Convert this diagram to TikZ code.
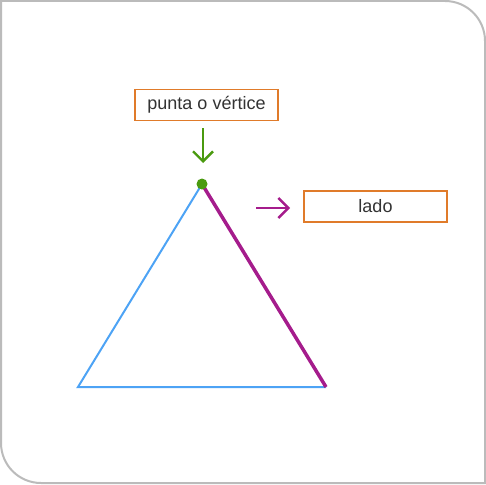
\documentclass[tikz,border=0pt]{standalone}
\usepackage{fontspec}
\setmainfont{Liberation Sans}
\usetikzlibrary{arrows.meta,positioning}
\definecolor{marco}{HTML}{BBBBBB}
\definecolor{naranja}{HTML}{E07B2A}
\definecolor{azul}{HTML}{4DA3F5}
\definecolor{morado}{HTML}{A51C8C}
\definecolor{verde}{HTML}{4A9A0F}
\definecolor{texto}{HTML}{333333}
\begin{document}
\begin{tikzpicture}[x=1pt,y=-1pt,
  caja/.style={draw=naranja,line width=1.8pt,fill=white,text=texto,
    minimum width=143pt,minimum height=31pt,inner sep=0pt,font=\fontsize{18}{20}\selectfont},
  flecha/.style={line width=2.4pt,-{Straight Barb[length=10pt,width=20pt,line width=2.4pt]}}]
\useasboundingbox (0,0) rectangle (486,484);

%el marco con dos esquinas redondeadas
\draw [marco,line width=2pt] (1,1) -- (445,1) arc[start angle=270,end angle=360,radius=40]
  -- (485,483) -- (41,483) arc[start angle=90,end angle=180,radius=40] -- cycle;

%vertices del triangulo
\coordinate (A) at (202,184);
\coordinate (B) at (78,387);
\coordinate (C) at (326,387);

%lados del triangulo
\draw [azul,line width=2pt] (C) -- (B) -- (A);
\draw [morado,line width=3.5pt] (A) -- (C);
\fill [verde] (A) circle (5.5);

%cajas de texto
\node [caja] (vertice) at (206.5,105) {punta o vértice};
\node [caja] (lado) at (375.5,206.5) {lado};

%flechas
\coordinate (v1) at (203,128);
\coordinate (v2) at (203,163);
\draw [flecha,verde] (v1) -- (v2);
\coordinate (l1) at (256,208);
\coordinate (l2) at (290,208);
\draw [flecha,morado] (l1) -- (l2);
\end{tikzpicture}
\end{document}
